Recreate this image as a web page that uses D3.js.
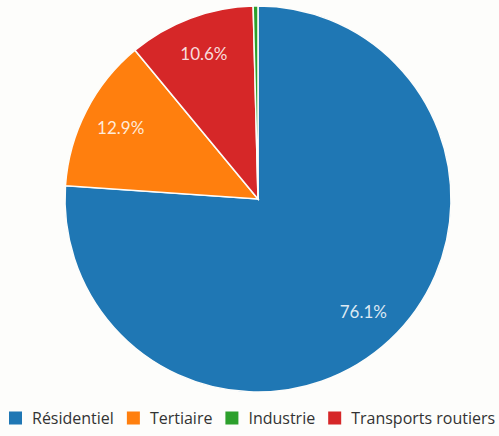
<!DOCTYPE html>
<html>
<head>
<meta charset="utf-8">
<script src="https://cdn.jsdelivr.net/npm/d3@7"></script>
<style>
  html, body { margin: 0; padding: 0; background: #fdfdfb; }
  svg { display: block; font-family: Lato, "Open Sans", sans-serif; }
</style>
</head>
<body>
<svg id="chart" width="499" height="436"></svg>
<script>
// Energy consumption share by sector (order drawn clockwise from 12 o'clock)
const sectors = ["Résidentiel", "Tertiaire", "Transports routiers", "Industrie"];
const shares = [76.1, 12.9, 10.6, 0.4];
const legendOrder = ["Résidentiel", "Tertiaire", "Industrie", "Transports routiers"];
const colors = ["#1f77b4", "#ff7f0e", "#2ca02c", "#d62728"];

const svg = d3.select("#chart");
const cx = 258, cy = 199, radius = 193;

const color = d3.scaleOrdinal()
  .domain(["Résidentiel", "Tertiaire", "Industrie", "Transports routiers"])
  .range(colors);

const data = sectors.map((s, i) => ({ name: s, value: shares[i] }));

const pie = d3.pie().sort(null).value(d => d.value);
const arc = d3.arc().innerRadius(0).outerRadius(radius);
const labelArc = d3.arc().innerRadius(radius * 0.8).outerRadius(radius * 0.8);

const g = svg.append("g").attr("transform", `translate(${cx},${cy})`);
const arcs = pie(data);

g.selectAll("path")
  .data(arcs)
  .join("path")
  .attr("d", arc)
  .attr("fill", d => color(d.data.name))
  .attr("stroke", "#fdfdfb")
  .attr("stroke-width", 1.5);

g.selectAll("text")
  .data(arcs.filter(d => d.data.value >= 5))
  .join("text")
  .attr("transform", d => `translate(${labelArc.centroid(d)})`)
  .attr("text-anchor", "middle")
  .attr("dy", "0.35em")
  .attr("fill", "#ffffff")
  .attr("fill-opacity", 0.85)
  .attr("font-size", 17)
  .text(d => d.data.value.toFixed(1) + "%");

// Legend, laid out left to right
const legend = svg.append("g").attr("transform", "translate(9,418)");
let x = 0;
legendOrder.forEach(name => {
  const item = legend.append("g").attr("transform", `translate(${x},0)`);
  item.append("rect")
    .attr("x", 0).attr("y", -6.5)
    .attr("width", 13).attr("height", 13)
    .attr("fill", color(name));
  const t = item.append("text")
    .attr("x", 23).attr("dy", "0.35em")
    .attr("font-family", "'Open Sans', sans-serif")
    .attr("font-size", 16)
    .attr("fill", "#333")
    .text(name);
  x += 23 + t.node().getComputedTextLength() + 13;
});
</script>
</body>
</html>
